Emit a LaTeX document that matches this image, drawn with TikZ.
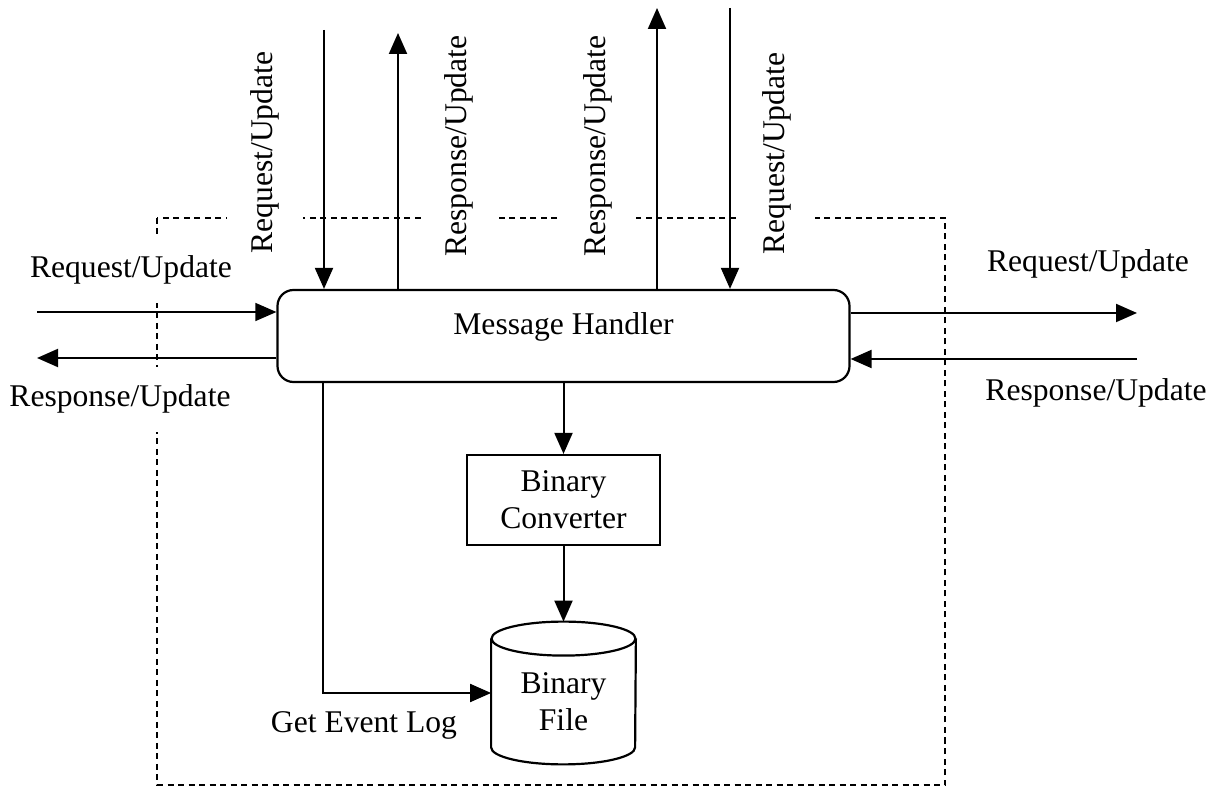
\documentclass[tikz,border=0pt]{standalone}
\usepackage{fontspec}
\setmainfont{Liberation Serif}
\usetikzlibrary{arrows.meta}

\tikzset{
  boxline/.style={line width=1.1pt},
  arr/.style={line width=1pt, -{Triangle[length=10.5pt,width=9pt]}},
  arrthin/.style={line width=0.7pt, -{Triangle[length=10.5pt,width=9pt]}},
  frame/.style={line width=0.8pt, dash pattern=on 3pt off 2.25pt},
  lbl/.style={fill=white, inner xsep=1pt, inner ysep=9pt},
  vlbl/.style={fill=white, rotate=90, anchor=west, inner xsep=0pt, inner ysep=12pt},
  plain/.style={inner sep=0pt},
}

\begin{document}
\begin{tikzpicture}[x=0.5pt, y=-0.5pt, font=\fontsize{15.8pt}{18.5pt}\selectfont]
\useasboundingbox (0,0) rectangle (1227,790);

% dashed system boundary
\draw[frame] (157,218) rectangle (945,785);

% labels (white background interrupts the boundary)
\node[lbl, anchor=base] (lreq) at (131,278) {Request/Update};
\node[lbl, anchor=base] (lres) at (120,407) {Response/Update};
\node[lbl, anchor=base] (rreq) at (1088,272) {Request/Update};
\node[lbl, anchor=base] (rres) at (1096,401) {Response/Update};
\node[vlbl] (treq1) at (265,254) {Request/Update};
\node[vlbl] (tres1) at (459,257) {Response/Update};
\node[vlbl] (tres2) at (598,257) {Response/Update};
\node[vlbl] (treq2) at (777,255) {Request/Update};
\node[plain, anchor=base] (gel) at (364,733) {Get Event Log};

% components
\node[boxline, draw, fill=white, rounded corners=8pt, minimum width=286pt,
      minimum height=46pt, inner ysep=0pt, text height=22.5pt, text depth=23.5pt]
      (mh) at (563.5,336) {Message Handler};
\node[boxline, draw, fill=white, minimum width=96.5pt, minimum height=45pt,
      align=center] (bc) at (563.5,500) {Binary\\Converter};
\node[minimum width=72pt, minimum height=71pt, inner sep=0pt] (bf) at (563.5,693) {};
\draw[boxline, fill=white] ([yshift=-8.5pt]bf.north west)
  -- ([yshift=8.5pt]bf.south west)
  arc[start angle=180, end angle=360, x radius=36pt, y radius=8.5pt]
  -- ([yshift=-8.5pt]bf.north east);
\draw[boxline, fill=white] ([yshift=-8.5pt]bf.north) ellipse[x radius=36pt, y radius=8.5pt];
\node[align=center, inner sep=0pt] (bftxt) at ([yshift=-4.5pt]bf.center) {Binary\\File};

% end points of the external connectors
\coordinate (t1) at (324,30);
\coordinate (t2) at (398,33);
\coordinate (t3) at (657,8);
\coordinate (t4) at (730,8);
\coordinate (l1) at (37,312);
\coordinate (l2) at (37,358);
\coordinate (r1) at (1137,313);
\coordinate (r2) at (1137,359);
\coordinate (gx) at (323,0);

% connectors
\draw[arr] (t1) -- (t1 |- mh.north);
\draw[arr] (t2 |- mh.north) -- (t2);
\draw[arr] (t3 |- mh.north) -- (t3);
\draw[arr] (t4) -- (t4 |- mh.north);
\draw[arrthin] (l1) -- (l1 -| mh.west);
\draw[arr] (l2 -| mh.west) -- (l2);
\draw[arr] (r1 -| mh.east) -- (r1);
\draw[arr] (r2) -- (r2 -| mh.east);
\draw[arr] (mh.south) -- (bc.north);
\draw[arr] (bc.south) -- (bf.north);
\draw[arr] (mh.south -| gx) |- (bf.west);
\end{tikzpicture}
\end{document}
